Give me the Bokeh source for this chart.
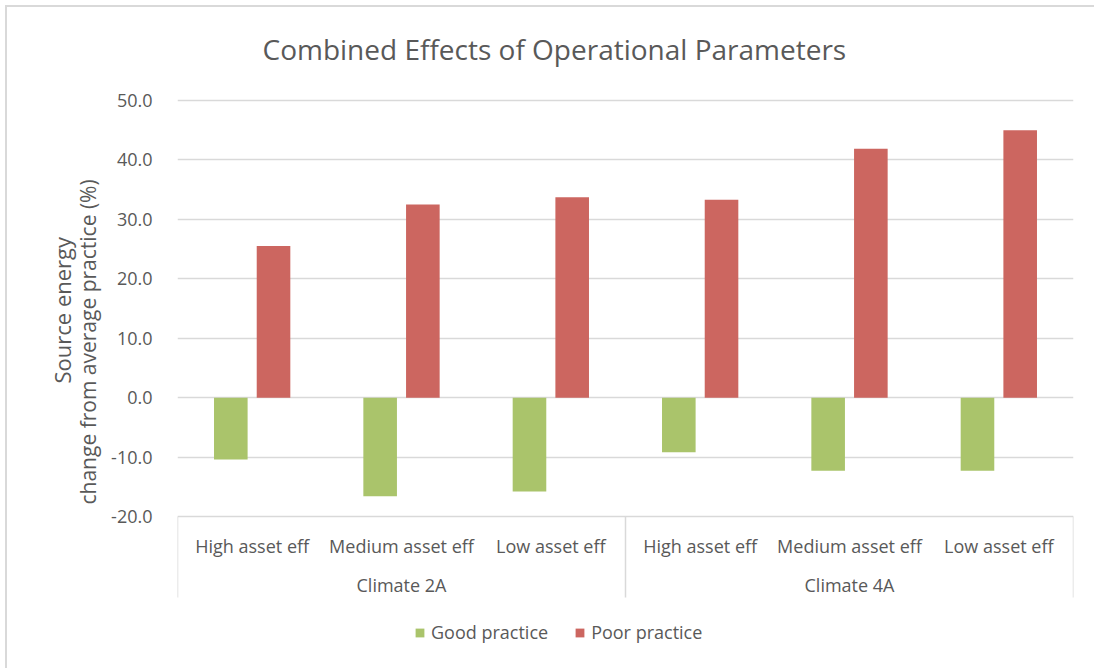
import numpy as np
from bokeh.plotting import figure
from bokeh.models import (ColumnDataSource, FixedTicker, Legend, LegendItem,
                          Title, NumeralTickFormatter, Range1d)
from bokeh.core.properties import value
from bokeh.embed import file_html
from bokeh.resources import INLINE

# ---------------- data ----------------
climates = ["Climate 2A", "Climate 4A"]
efficiencies = ["High asset eff", "Medium asset eff", "Low asset eff"]
good_practice = [-10.4, -16.6, -15.8, -9.2, -12.3, -12.3]
poor_practice = [25.5, 32.5, 33.7, 33.3, 41.9, 45.0]
series_names = ["Good practice", "Poor practice"]
y_ticks = [-20, -10, 0, 10, 20, 30, 40, 50]
chart_title = "Combined Effects of Operational Parameters"
y_title_lines = ["Source energy", "change from average practice (%)"]

# ---------------- styling / layout ----------------
FONT = "Open Sans"
TXT = "#595959"
GRID = "#D9D9D9"
GREEN = "#AAC46B"
RED = "#CC6660"

FRAME_L, FRAME_T, FRAME_W = 177, 75, 896
RIGHT_PAD = 1094 - FRAME_L - FRAME_W
Y_MIN, Y_MAX = min(y_ticks), max(y_ticks)
PX_PER_UNIT = 416 / (Y_MAX - Y_MIN)          # plot area (-20..50) is 416 px tall
TOP_PAD_PX, BOTTOM_PAD_PX = 25, 144           # room for title gap / category axis + legend
y_lo = Y_MIN - BOTTOM_PAD_PX / PX_PER_UNIT
y_hi = Y_MAX + TOP_PAD_PX / PX_PER_UNIT
FRAME_H = 416 + TOP_PAD_PX + BOTTOM_PAD_PX
BOTTOM_BORDER = 668 - FRAME_T - FRAME_H


def below_axis(px):
    """data y for a point px pixels below the -20 axis line"""
    return Y_MIN - px / PX_PER_UNIT


n_sub = len(efficiencies)
n_cat = len(climates) * n_sub
centers = np.arange(n_cat) + 0.5
sub_labels = [efficiencies[i % n_sub] for i in range(n_cat)]
group_centers = [g * n_sub + n_sub / 2 for g in range(len(climates))]
group_edges = [g * n_sub for g in range(len(climates) + 1)]

src = ColumnDataSource(dict(
    xg=centers - 0.143, xp=centers + 0.143,
    good=good_practice, poor=poor_practice,
))

p = figure(width=FRAME_L + FRAME_W + RIGHT_PAD,
           height=FRAME_T + FRAME_H + BOTTOM_BORDER,
           output_backend="svg", toolbar_location=None,
           x_axis_type=None, min_border_left=FRAME_L, min_border_right=RIGHT_PAD,
           min_border_top=FRAME_T, min_border_bottom=BOTTOM_BORDER,
           x_range=Range1d(0, n_cat), y_range=Range1d(y_lo, y_hi))
# chart-area border (top and left edges) painted behind a transparent canvas border
p.styles = {
    "background": ("linear-gradient(#D9D9D9, #D9D9D9) 5px 5px / 2px 100% no-repeat, "
                   "linear-gradient(#D9D9D9, #D9D9D9) 5px 5px / 100% 2px no-repeat, "
                   "white"),
}
p.outline_line_color = None
p.background_fill_color = "white"
p.border_fill_alpha = 0

r_good = p.vbar(x="xg", top="good", bottom=0, width=0.225, source=src,
                fill_color=GREEN, line_color=None)
r_poor = p.vbar(x="xp", top="poor", bottom=0, width=0.225, source=src,
                fill_color=RED, line_color=None)

# y axis
yax = p.yaxis[0]
yax.ticker = FixedTicker(ticks=y_ticks)
yax.formatter = NumeralTickFormatter(format="0.0")
yax.axis_line_color = None
yax.major_tick_line_color = None
yax.minor_tick_line_color = None
yax.major_label_standoff = 19
yax.major_label_text_font = FONT
yax.major_label_text_font_size = "18px"
yax.major_label_text_color = TXT

p.ygrid.grid_line_color = GRID
p.ygrid.grid_line_width = 1.5
p.xgrid.grid_line_color = None

# category axis (two levels) drawn inside the lower part of the frame
p.segment(x0=group_edges, x1=group_edges,
          y0=[Y_MIN] * len(group_edges), y1=[below_axis(81)] * len(group_edges),
          line_color=GRID, line_width=1.5)
sub_src = ColumnDataSource(dict(x=centers, y=[below_axis(29)] * n_cat, t=sub_labels))
p.text(x="x", y="y", text="t", source=sub_src, text_align="center",
       text_baseline="middle", text_font=value(FONT), text_font_size="18px",
       text_color=TXT)
grp_src = ColumnDataSource(dict(x=group_centers, y=[below_axis(68)] * len(climates),
                                t=climates))
p.text(x="x", y="y", text="t", source=grp_src, text_align="center",
       text_baseline="middle", text_font=value(FONT), text_font_size="18px",
       text_color=TXT)

# legend
legend = Legend(items=[LegendItem(label=series_names[0], renderers=[r_good]),
                       LegendItem(label=series_names[1], renderers=[r_poor])],
                orientation="horizontal", location=(237, 16),
                glyph_width=11, glyph_height=11, label_standoff=6, spacing=26,
                padding=0, margin=0, border_line_color=None,
                background_fill_alpha=0,
                label_text_font=FONT, label_text_font_size="18px",
                label_text_color=TXT)
p.add_layout(legend, "center")

# title
t = Title(text=chart_title, align="left", offset=85, vertical_align="bottom",
          standoff=16, text_font=FONT, text_font_size="28px",
          text_font_style="normal", text_color=TXT)
p.add_layout(t, "above")

# y-axis title (two lines)
t1 = Title(text=y_title_lines[1], align="left", offset=156, vertical_align="bottom",
           standoff=14, text_font=FONT, text_font_size="21px",
           text_font_style="normal", text_color=TXT)
p.add_layout(t1, "left")
t2 = Title(text=y_title_lines[0], align="left", offset=277, vertical_align="bottom",
           standoff=-24, text_font=FONT, text_font_size="22px",
           text_font_style="normal", text_color=TXT)
p.add_layout(t2, "left")

open("out.html", "w").write(file_html(p, INLINE))
